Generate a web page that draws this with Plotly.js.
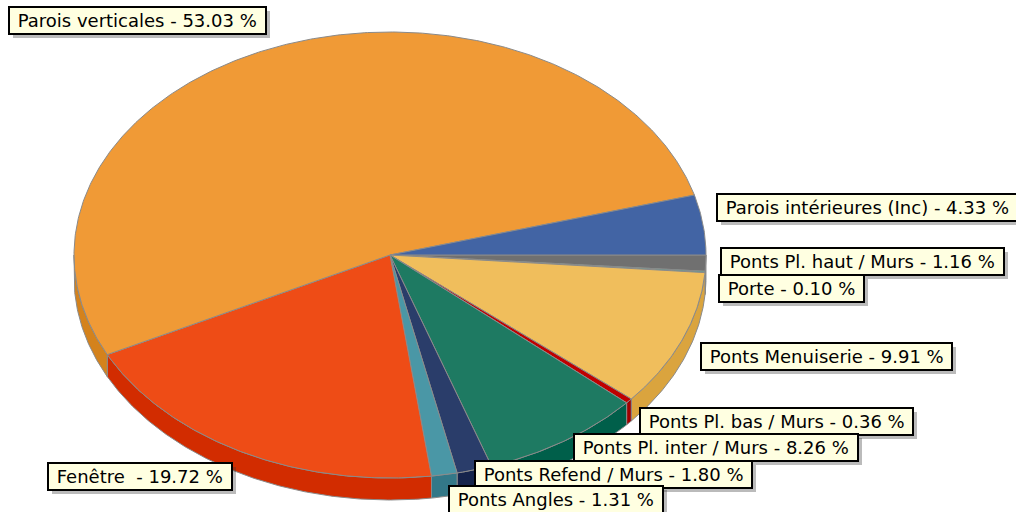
<!DOCTYPE html>
<html>
<head>
<meta charset="utf-8">
<script src="https://cdn.plot.ly/plotly-3.0.1.min.js"></script>
<style>html,body{margin:0;padding:0;background:#fff;}#chart{width:1016px;height:512px;}</style>
</head>
<body>
<div id="chart"></div>
<script>
// Categories in drawing order (clockwise from 3 o'clock)
const categories = [
  "Ponts Pl. haut / Murs",
  "Porte",
  "Ponts Menuiserie",
  "Ponts Pl. bas / Murs",
  "Ponts Pl. inter / Murs",
  "Ponts Refend / Murs",
  "Ponts Angles",
  "Fenêtre\u00a0",
  "Parois verticales",
  "Parois intérieures (Inc)"
];
const percents = [1.16, 0.10, 9.91, 0.36, 8.26, 1.80, 1.31, 19.72, 53.03, 4.33];
const topColors = ["#707070", "#4ea89a", "#f0be5c", "#c00000", "#1e7a62", "#2a3d6a", "#4a97a6", "#ee4c16", "#f09a36", "#4264a4"];
const sideColors = ["#5a5a5a", "#3a8a80", "#daa43e", "#a00000", "#005f4a", "#15244c", "#337888", "#d22c00", "#d4821c", "#2f4c88"];
// label box positions (left, top) in pixels
const labelPos = [
  [720, 247], [718, 274], [700, 342], [639, 407], [573, 433],
  [474, 460], [448, 485], [47, 462], [8, 6], [716, 193]
];

const W = 1016, H = 512;
const cx = 390, cy = 255, rx = 316, ry = 223, depth = 22;

const total = percents.reduce((a, b) => a + b, 0);
const traces = [];
const sideTraces = [];
let acc = 0;
function pt(tDeg, dy) {
  const t = tDeg * Math.PI / 180;
  return [cx + rx * Math.cos(t), cy + ry * Math.sin(t) + (dy || 0)];
}
percents.forEach((v, i) => {
  const a0 = acc / total * 360;
  acc += v;
  const a1 = acc / total * 360;
  const xs = [cx], ys = [cy];
  const n = Math.max(2, Math.ceil((a1 - a0) / 0.5));
  for (let k = 0; k <= n; k++) {
    const p = pt(a0 + (a1 - a0) * k / n);
    xs.push(p[0]); ys.push(p[1]);
  }
  xs.push(cx); ys.push(cy);
  traces.push({
    type: "scatter", mode: "lines", x: xs, y: ys, fill: "toself",
    fillcolor: topColors[i], line: { color: "#8a8a8a", width: 1 },
    hoverinfo: "text", text: categories[i], showlegend: false
  });
  const s0 = Math.max(a0, 0), s1 = Math.min(a1, 180);
  if (s1 > s0) {
    const sx = [], sy = [];
    const m = Math.max(2, Math.ceil((s1 - s0) / 0.5));
    for (let k = 0; k <= m; k++) {
      const p = pt(s0 + (s1 - s0) * k / m);
      sx.push(p[0]); sy.push(p[1]);
    }
    for (let k = m; k >= 0; k--) {
      const p = pt(s0 + (s1 - s0) * k / m, depth);
      sx.push(p[0]); sy.push(p[1]);
    }
    sx.push(sx[0]); sy.push(sy[0]);
    sideTraces.push({
      type: "scatter", mode: "lines", x: sx, y: sy, fill: "toself",
      fillcolor: sideColors[i], line: { color: "#8a8a8a", width: 1 },
      hoverinfo: "skip", showlegend: false
    });
  }
});

const annotations = [];
const font = { family: "DejaVu Sans, Verdana, sans-serif", size: 18, color: "#000" };
categories.forEach((c, i) => {
  const txt = "\u00a0" + c + " - " + percents[i].toFixed(2) + " %\u00a0";
  const [lx, ly] = labelPos[i];
  annotations.push({
    xref: "x", yref: "y", x: lx, y: ly, xanchor: "left", yanchor: "top",
    text: txt, showarrow: false, font: font,
    bgcolor: "#ffffe1", bordercolor: "#000", borderwidth: 2, borderpad: 2
  });
});

const layout = {
  width: W, height: H,
  margin: { l: 0, r: 0, t: 0, b: 0, pad: 0 },
  paper_bgcolor: "#fff", plot_bgcolor: "#fff",
  xaxis: { range: [0, W], visible: false, fixedrange: true },
  yaxis: { range: [H, 0], visible: false, fixedrange: true },
  showlegend: false,
  annotations: annotations
};
const gd = document.getElementById("chart");
Plotly.newPlot(gd, sideTraces.concat(traces), layout, { staticPlot: true }).then(() => {
  // soft drop shadows behind the label boxes, sized from the drawn boxes
  const root = gd.getBoundingClientRect();
  const shapes = [];
  gd.querySelectorAll(".annotation rect.bg").forEach(r => {
    const b = r.getBoundingClientRect();
    const x0 = b.left - root.left, y0 = b.top - root.top;
    shapes.push({
      type: "rect", xref: "x", yref: "y", layer: "above",
      x0: x0 + 4, x1: x0 + b.width + 4, y0: y0 + 4, y1: y0 + b.height + 4,
      fillcolor: "rgba(60,60,60,0.35)", line: { width: 0 }
    });
  });
  return Plotly.relayout(gd, { shapes: shapes });
});
</script>
</body>
</html>
